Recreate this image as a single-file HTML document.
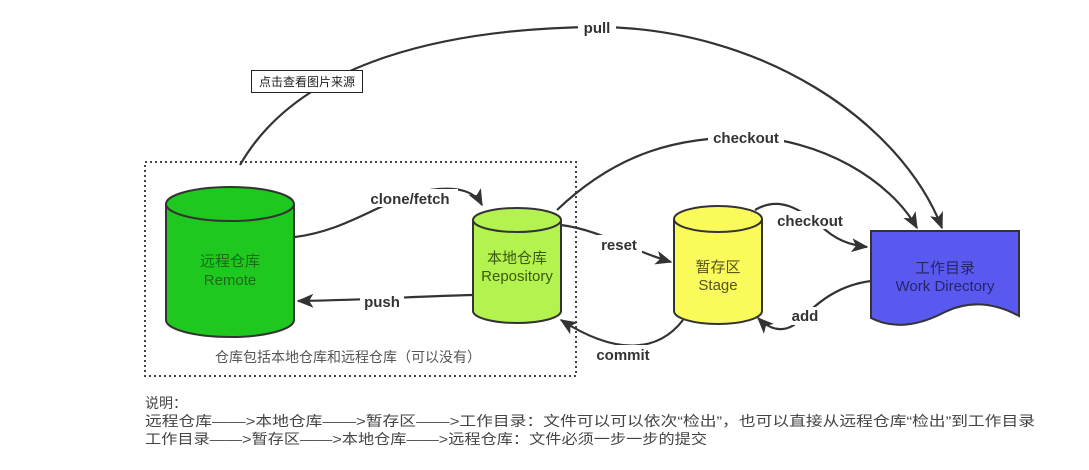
<!DOCTYPE html>
<html><head><meta charset="utf-8"><style>
html,body{margin:0;padding:0;background:#fff;width:1089px;height:470px;overflow:hidden}
svg{display:block}
.lbl{font-family:"Liberation Sans","DejaVu Sans",sans-serif;font-weight:bold;font-size:15px;fill:#333}
.cn{font-family:"Liberation Sans","Noto Sans CJK SC",sans-serif;font-size:15px}
</style></head><body>
<svg width="1089" height="470" viewBox="0 0 1089 470" xmlns="http://www.w3.org/2000/svg">
<defs>
<marker id="a" viewBox="0 0 12 10" refX="11" refY="5" markerWidth="17" markerHeight="14" orient="auto" markerUnits="userSpaceOnUse"><path d="M0,0 L12,5 L0,10 L3,5 Z" fill="#333"/></marker>
</defs>
<rect x="145" y="162" width="431" height="214" fill="none" stroke="#444" stroke-width="2" stroke-dasharray="2,3"/>
<g fill="none" stroke="#333" stroke-width="2.2">
<path d="M240,165 C300,60 450,28 598,27 C760,28 900,120 942,228" marker-end="url(#a)"/>
<path d="M557,210 C620,150 680,138 745,137 C820,138 890,180 917,228" marker-end="url(#a)"/>
<path d="M295,237 C350,230 380,200 430,190 C460,186 475,192 482,205" marker-end="url(#a)"/>
<path d="M473,295 C420,296 370,300 298,301" marker-end="url(#a)"/>
<path d="M561,225 C600,230 630,250 671,262" marker-end="url(#a)"/>
<path d="M683,320 C660,350 620,358 561,320" marker-end="url(#a)"/>
<path d="M755,210 C780,195 800,210 820,225 C835,240 850,245 867,247" marker-end="url(#a)"/>
<path d="M871,281 C840,285 820,300 800,320 C790,330 775,335 758,318" marker-end="url(#a)"/>
</g>
<g fill="#fff">
<rect x="578" y="18" width="38" height="18"/>
<rect x="708" y="128" width="76" height="18"/>
<rect x="362" y="189" width="96" height="18"/>
<rect x="360" y="292" width="44" height="18"/>
<rect x="596" y="235" width="46" height="18"/>
<rect x="590" y="345" width="66" height="18"/>
<rect x="770" y="211" width="80" height="18"/>
<rect x="786" y="307" width="38" height="18"/>
</g>
<g class="lbl">
<text x="597" y="33" text-anchor="middle">pull</text>
<text x="746" y="143" text-anchor="middle">checkout</text>
<text x="410" y="204" text-anchor="middle">clone/fetch</text>
<text x="382" y="307" text-anchor="middle">push</text>
<text x="619" y="250" text-anchor="middle">reset</text>
<text x="623" y="360" text-anchor="middle">commit</text>
<text x="810" y="226" text-anchor="middle">checkout</text>
<text x="805" y="321" text-anchor="middle">add</text>
</g>
<path d="M166,204 L166,320 A64,17 0 0 0 294,320 L294,204" fill="#1ec81e" stroke="#333" stroke-width="2"/>
<ellipse cx="230" cy="204" rx="64" ry="17" fill="#1ec81e" stroke="#333" stroke-width="2"/>
<text class="cn" x="230" y="266" text-anchor="middle" fill="#1a6a1a">远程仓库</text>
<text class="cn" x="230" y="285" text-anchor="middle" fill="#1a6a1a">Remote</text>
<path d="M473,220 L473,311 A44,12 0 0 0 561,311 L561,220" fill="#b4f250" stroke="#333" stroke-width="2"/>
<ellipse cx="517" cy="220" rx="44" ry="12" fill="#b4f250" stroke="#333" stroke-width="2"/>
<text class="cn" x="517" y="263" text-anchor="middle" fill="#3a5a10">本地仓库</text>
<text class="cn" x="517" y="281" text-anchor="middle" fill="#3a5a10">Repository</text>
<path d="M674,219 L674,311 A44,13 0 0 0 762,311 L762,219" fill="#fafa5a" stroke="#333" stroke-width="2"/>
<ellipse cx="718" cy="219" rx="44" ry="13" fill="#fafa5a" stroke="#333" stroke-width="2"/>
<text class="cn" x="718" y="272" text-anchor="middle" fill="#555520">暂存区</text>
<text class="cn" x="718" y="290" text-anchor="middle" fill="#555520">Stage</text>
<path d="M871,231 L1019,231 L1019,316 C995,303 970,300 945,312 C920,325 895,330 871,318 Z" fill="#5959f0" stroke="#333" stroke-width="2"/>
<text class="cn" x="945" y="273" text-anchor="middle" fill="#25256a">工作目录</text>
<text class="cn" x="945" y="291" text-anchor="middle" fill="#25256a">Work Directory</text>
<text class="cn" x="348" y="362" text-anchor="middle" fill="#555" style="font-size:14px">仓库包括本地仓库和远程仓库（可以没有）</text>
<rect x="251.5" y="70.5" width="111" height="22" fill="#fff" stroke="#222"/>
<text class="cn" x="307" y="86" text-anchor="middle" fill="#222" style="font-size:12px">点击查看图片来源</text>
<g class="cn" fill="#444">
<text x="145" y="408" style="font-size:14px">说明：</text>
<text x="145" y="426" style="font-size:14px" textLength="890" lengthAdjust="spacingAndGlyphs">远程仓库——&gt;本地仓库——&gt;暂存区——&gt;工作目录：文件可以可以依次“检出”，也可以直接从远程仓库“检出”到工作目录</text>
<text x="145" y="444" style="font-size:14px" textLength="562" lengthAdjust="spacingAndGlyphs">工作目录——&gt;暂存区——&gt;本地仓库——&gt;远程仓库：文件必须一步一步的提交</text>
</g>
</svg>
</body></html>
